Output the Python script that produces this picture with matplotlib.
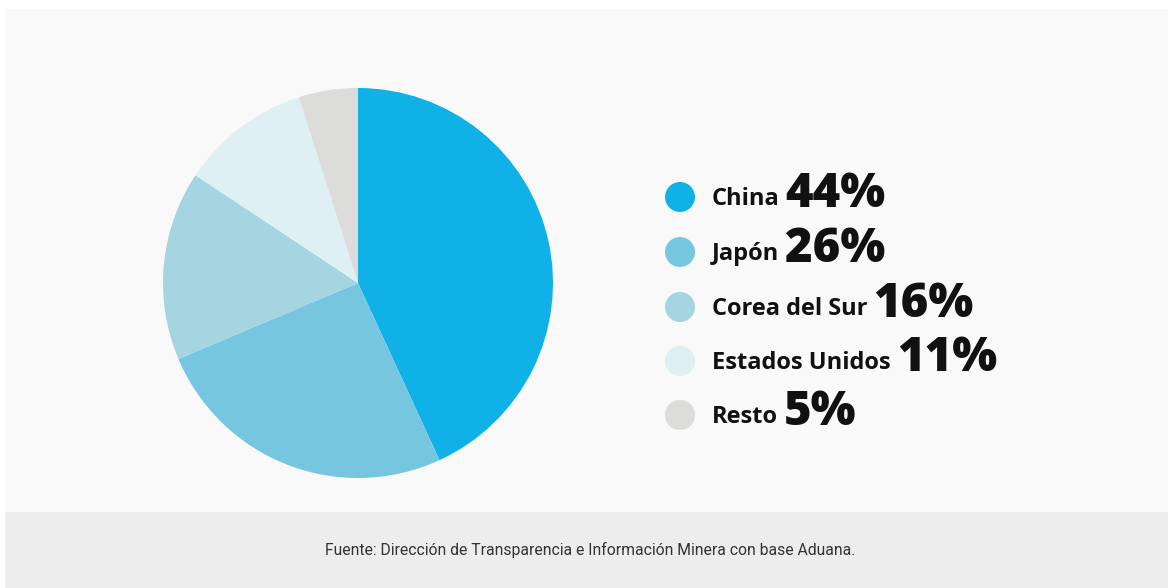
import matplotlib.pyplot as plt
from matplotlib.patches import Rectangle, Circle

# Data
paises = ["China", "Japón", "Corea del Sur", "Estados Unidos", "Resto"]
porcentajes = [44, 26, 16, 11, 5]
colores = ["#10b1e6", "#77c6e0", "#a4d5e0", "#dff0f4", "#dcdcdb"]
fuente = "Fuente: Dirección de Transparencia e Información Minera con base Aduana."

W, H = 1168, 588
fig = plt.figure(figsize=(W / 100, H / 100), dpi=100)
fig.patch.set_facecolor("white")

# background axes in pixel coordinates
bg = fig.add_axes([0, 0, 1, 1], zorder=0)
bg.set_xlim(0, W)
bg.set_ylim(H, 0)
bg.axis("off")
bg.add_patch(Rectangle((5, 9), W, 512 - 9, facecolor="#f9f9f9", edgecolor="none"))
bg.add_patch(Rectangle((5, 512), W, H - 512, facecolor="#ededed", edgecolor="none"))

# pie
cx, cy, r = 358, 283, 195
ax = fig.add_axes([(cx - r) / W, (H - cy - r) / H, 2 * r / W, 2 * r / H], zorder=1)
ax.pie(porcentajes, colors=colores, startangle=90, counterclock=False,
       wedgeprops=dict(linewidth=0))
ax.set_xlim(-1, 1)
ax.set_ylim(-1, 1)
ax.set_aspect("equal")
ax.axis("off")

# legend
leg_y = [197, 252, 307, 361, 415]
for pais, pct, col, y in zip(paises, porcentajes, colores, leg_y):
    bg.add_patch(Circle((680, y), 15, facecolor=col, edgecolor="none"))
    t = bg.text(712, y + 8, pais, fontsize=17, fontfamily="Open Sans",
                fontweight="bold", color="#111111", va="baseline")
    fig.canvas.draw()
    bb = t.get_window_extent()
    bg.text(bb.x1 + 6, y + 10, f"{pct}%", fontsize=34, fontfamily="Open Sans",
            fontweight="heavy", color="#111111", va="baseline")

# footer
bg.text(590, 550, fuente, fontsize=11.3, fontfamily="Roboto",
        color="#333333", ha="center", va="center")

fig.savefig("out.png", dpi=100)
